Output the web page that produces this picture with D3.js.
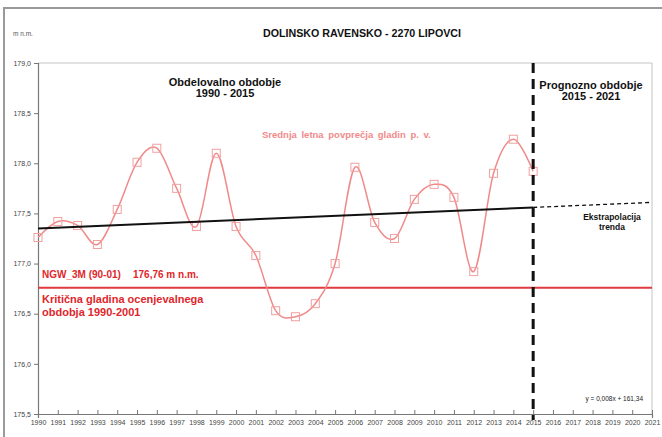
<!DOCTYPE html>
<html>
<head>
<meta charset="utf-8">
<script src="https://cdn.jsdelivr.net/npm/d3@7"></script>
<style>
  html, body { margin: 0; padding: 0; background: #fff; }
  svg { display: block; font-family: "Liberation Sans", Arial, sans-serif; }
</style>
</head>
<body>
<svg id="chart" width="662" height="437"></svg>
<script>
// Mean annual groundwater levels, station 2270 Lipovci (m n.m.)
const years = [1990,1991,1992,1993,1994,1995,1996,1997,1998,1999,2000,2001,2002,2003,2004,2005,2006,2007,2008,2009,2010,2011,2012,2013,2014,2015];
const levels = [177.26,177.42,177.38,177.19,177.54,178.01,178.15,177.75,177.37,178.10,177.37,177.08,176.53,176.47,176.60,177.00,177.96,177.41,177.25,177.64,177.79,177.66,176.92,177.90,178.24,177.92];

// Linear trend (fitted over 1990-2015) and its extrapolation to 2021
const trendYears = [1990, 2015];
const trendValues = [177.35, 177.56];
const extrapYears = [2015, 2021];
const extrapValues = [177.56, 177.61];

// Critical level of the assessment period 1990-2001
const criticalLevel = 176.76;

const yTicks = [175.5, 176.0, 176.5, 177.0, 177.5, 178.0, 178.5, 179.0];
const xTicks = d3.range(1990, 2022);

const svg = d3.select("#chart");
const plotL = 38, plotR = 652, plotT = 63, plotB = 414;

const x = d3.scaleLinear().domain([1990, 2021]).range([plotL, plotR]);
const y = d3.scaleLinear().domain([175.5, 179.0]).range([plotB, plotT]);

const fmt = v => d3.format(".1f")(v).replace(".", ",");

// outer frame (top and left edges)
svg.append("path")
  .attr("d", `M4,437 V8 H662`)
  .attr("fill", "none").attr("stroke", "#9a9a9a").attr("stroke-width", 2);

// plot area frame
svg.append("path")
  .attr("d", `M${plotL},${plotT} H${plotR} V${plotB}`)
  .attr("fill", "none").attr("stroke", "#c4c4c4").attr("stroke-width", 1);

// axes
const yAxis = svg.append("g").attr("transform", `translate(${plotL},0)`)
  .call(d3.axisLeft(y).tickValues(yTicks).tickFormat(fmt).tickSize(4).tickPadding(3));
const xAxis = svg.append("g").attr("transform", `translate(0,${plotB})`)
  .call(d3.axisBottom(x).tickValues(xTicks).tickFormat(d3.format("d")).tickSize(4).tickPadding(2));
[yAxis, xAxis].forEach(g => {
  g.select(".domain").attr("stroke", "#777").attr("stroke-width", 1.2);
  g.selectAll(".tick line").attr("stroke", "#777");
  g.selectAll(".tick text").attr("fill", "#444").style("font-size", "7px")
    .style("font-family", "'Liberation Sans', Arial, sans-serif");
});
xAxis.selectAll(".tick line").attr("y2", 0).attr("y1", -4);

// axis unit and title
svg.append("text").attr("x", 13).attr("y", 36).attr("fill", "#555")
  .style("font-size", "6.5px").text("m n.m.");
svg.append("text").attr("x", 362).attr("y", 37).attr("text-anchor", "middle")
  .attr("fill", "#111").style("font-size", "10.5px").style("font-weight", "bold")
  .attr("textLength", 198).attr("lengthAdjust", "spacingAndGlyphs")
  .text("DOLINSKO RAVENSKO - 2270 LIPOVCI");

// critical level
svg.append("line")
  .attr("x1", plotL).attr("x2", plotR)
  .attr("y1", y(criticalLevel)).attr("y2", y(criticalLevel))
  .attr("stroke", "#e0393e").attr("stroke-width", 2);

// series: smoothed line with hollow square markers
const pts = years.map((yr, i) => [yr, levels[i]]);
svg.append("path").datum(pts)
  .attr("d", d3.line().x(d => x(d[0])).y(d => y(d[1])).curve(d3.curveCatmullRom.alpha(0)))
  .attr("fill", "none").attr("stroke", "#f08a8a").attr("stroke-width", 1.5);
svg.append("g").selectAll("rect").data(pts).join("rect")
  .attr("x", d => x(d[0]) - 4).attr("y", d => y(d[1]) - 4)
  .attr("width", 8).attr("height", 8)
  .attr("fill", "none").attr("stroke", "#f2a0a0").attr("stroke-width", 1);

// trend line and extrapolation
svg.append("line")
  .attr("x1", x(trendYears[0])).attr("y1", y(trendValues[0]))
  .attr("x2", x(trendYears[1])).attr("y2", y(trendValues[1]))
  .attr("stroke", "#111").attr("stroke-width", 2);
svg.append("line")
  .attr("x1", x(extrapYears[0])).attr("y1", y(extrapValues[0]))
  .attr("x2", x(extrapYears[1])).attr("y2", y(extrapValues[1]))
  .attr("stroke", "#111").attr("stroke-width", 1.3).attr("stroke-dasharray", "4,3");

// boundary between the observed and forecast periods
svg.append("line")
  .attr("x1", x(2015)).attr("x2", x(2015)).attr("y1", plotT).attr("y2", plotB + 6)
  .attr("stroke", "#111").attr("stroke-width", 3).attr("stroke-dasharray", "10,6");

// annotations
function label(lines, cx, cy, opts) {
  const t = svg.append("text")
    .attr("text-anchor", opts.anchor || "middle")
    .attr("fill", opts.color || "#111")
    .style("font-size", opts.size + "px")
    .style("font-weight", "bold");
  lines.forEach((s, i) => t.append("tspan").attr("x", cx).attr("y", cy + i * opts.lh).text(s));
  return t;
}
label(["Obdelovalno obdobje", "1990 - 2015"], 225, 86, {size: 11, lh: 11});
label(["Prognozno obdobje", "2015 - 2021"], 591, 89, {size: 11, lh: 11});
label(["Ekstrapolacija", "trenda"], 612, 220, {size: 8.5, lh: 10});
label(["Srednja letna povprečja gladin p. v."], 262, 138, {size: 9.5, lh: 0, anchor: "start", color: "#f08a8a"})
  .style("word-spacing", "2px");
label(["NGW_3M (90-01)"], 42, 278, {size: 10, lh: 0, anchor: "start", color: "#e0262b"});
label(["176,76 m n.m."], 133, 278, {size: 10, lh: 0, anchor: "start", color: "#e0262b"});
label(["Kritična gladina ocenjevalnega", "obdobja 1990-2001"], 42, 303, {size: 11, lh: 12.5, anchor: "start", color: "#e0262b"});
svg.append("text").attr("x", 643).attr("y", 401).attr("text-anchor", "end")
  .attr("fill", "#222").style("font-size", "6.5px").text("y = 0,008x + 161,34");
</script>
</body>
</html>
